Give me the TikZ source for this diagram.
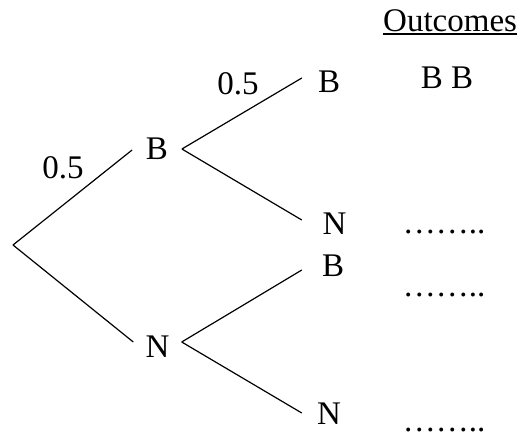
\documentclass[tikz,border=0pt]{standalone}
\usepackage{fontspec}
\setmainfont{Liberation Serif}
\begin{document}
\begin{tikzpicture}[x=1pt,y=-1pt,
  every node/.style={font=\fontsize{33}{39}\selectfont, inner sep=0pt},
  branch/.style={line width=1.2pt},
  ulin/.style={line width=1.2pt}]
\useasboundingbox (0,0) rectangle (521,439);
\coordinate (root) at (13,245);
% first level
\node[inner xsep=13.7pt] (b1) at (157,149) {B};
\node[inner xsep=12.1pt] (n1) at (157.5,347) {N};
% second level
\node[inner xsep=16pt] (bb) at (329,82) {B};
\node[inner xsep=20.6pt] (bn) at (334.5,224) {N};
\node[inner xsep=20pt] (nb) at (333,266) {B};
\node[inner xsep=15.1pt] (nn) at (329,414) {N};
% branches
\draw[branch] (root) -- ([yshift=-1pt]b1.west);
\draw[branch] (root) -- ([yshift=5pt]n1.west);
\draw[branch] (b1.east) -- ([yshift=4pt]bb.west);
\draw[branch] (b1.east) -- ([yshift=4pt]bn.west);
\draw[branch] ([yshift=5pt]n1.east) -- ([yshift=-4pt]nb.west);
\draw[branch] ([yshift=5pt]n1.east) -- ([yshift=1pt]nn.west);
% probabilities
\node (p1) at (63,168) {0.5};
\node (p2) at (238,84) {0.5};
% outcomes
\node[anchor=base west] (out) at (383,31.5) {Outcomes};
\draw[ulin] ([yshift=-2.5pt]out.base west) -- ([yshift=-2.5pt]out.base east);
\node[anchor=base] (o1) at (447,88.5) {B B};
\node[anchor=base] (o2) at (444,233) {……..};
\node[anchor=base] (o3) at (444,296) {……..};
\node[anchor=base] (o4) at (444,431.5) {……..};
\end{tikzpicture}
\end{document}
